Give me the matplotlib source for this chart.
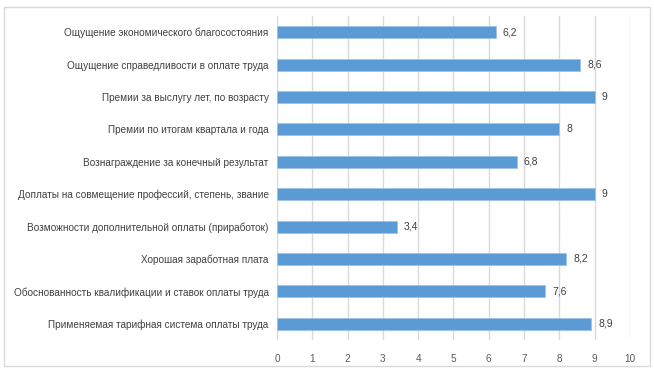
import matplotlib.pyplot as plt
from matplotlib.patches import Rectangle

categories = ['Ощущение экономического благосостояния',
              'Ощущение справедливости в оплате труда',
              'Премии за выслугу лет, по возрасту',
              'Премии по итогам квартала и года',
              'Вознаграждение за конечный результат',
              'Доплаты на совмещение профессий, степень, звание',
              'Возможности дополнительной оплаты (приработок)',
              'Хорошая заработная плата',
              'Обоснованность квалификации и ставок оплаты труда',
              'Применяемая тарифная система оплаты труда']
values = [6.2, 8.6, 9, 8, 6.8, 9, 3.4, 8.2, 7.6, 8.9]
value_labels = ['6,2', '8,6', '9', '8', '6,8', '9', '3,4', '8,2', '7,6', '8,9']
xticks = list(range(0, 11))

plt.rcParams['font.family'] = ['Liberation Sans', 'DejaVu Sans']

fig = plt.figure(figsize=(6.54, 3.71), dpi=100)
ax = fig.add_axes([0.4235, 0.0836, 0.5395, 0.8734])

ypos = list(range(len(categories)))
ax.barh(ypos, values, height=0.37, color='#5B9BD5', edgecolor='#9DC3E6', linewidth=0.6, zorder=2)
for y, v, lab in zip(ypos, values, value_labels):
    ax.text(v + 0.2, y, lab, va='center', ha='left', fontsize=7.5, color='#404040')

ax.set_ylim(len(categories) - 0.5, -0.5)
ax.set_xlim(0, 10)
ax.set_yticks(ypos)
ax.set_yticklabels(categories, fontsize=7.2, color='#404040')
ax.set_xticks(xticks)
ax.set_xticklabels([str(t) for t in xticks], fontsize=7.2, color='#595959')
ax.tick_params(axis='both', length=0)
ax.tick_params(axis='x', pad=10)
ax.tick_params(axis='y', pad=6)
ax.grid(axis='x', color='#D9D9D9', linewidth=1, zorder=0)
for s in ax.spines.values():
    s.set_visible(False)

fig.patches.append(Rectangle((4 / 654, 5 / 371), 646 / 654, 359 / 371, transform=fig.transFigure,
                             fill=False, edgecolor='#D9D9D9', linewidth=1))

fig.savefig('out.png', dpi=100)
